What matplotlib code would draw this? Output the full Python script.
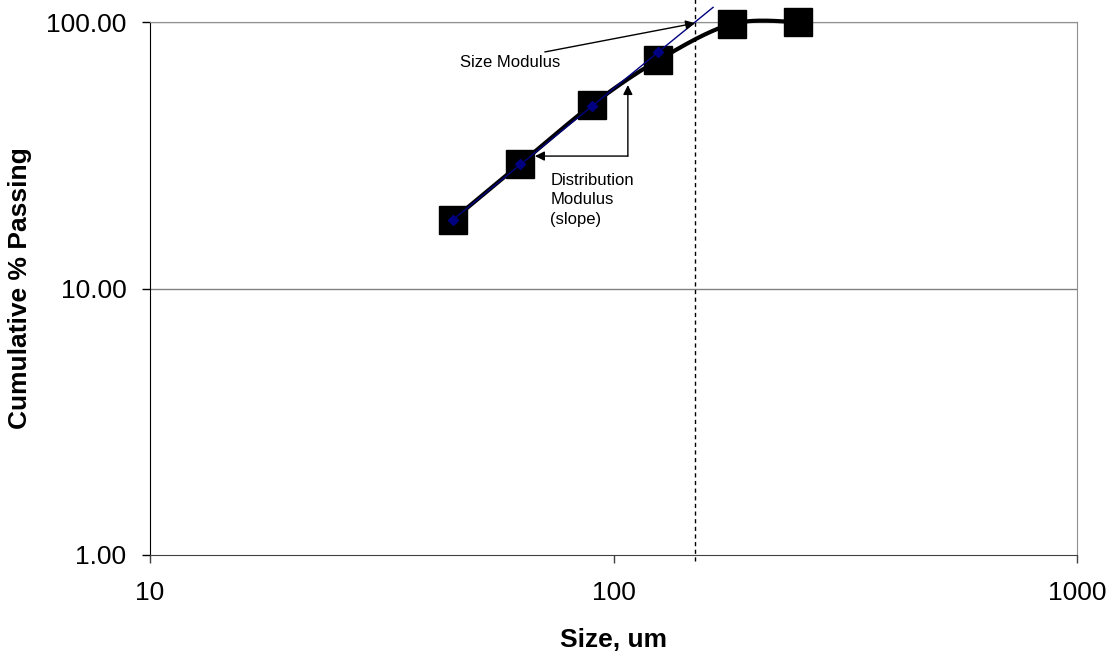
import numpy as np
import matplotlib
matplotlib.use("Agg")
import matplotlib.pyplot as plt
from matplotlib.ticker import FixedLocator, FixedFormatter, NullLocator

plt.rcParams['font.family'] = ['Liberation Sans', 'DejaVu Sans']

# ---- data ----
size_um = [45, 63, 90, 125, 180, 250]
cum_passing = [18.1, 29.4, 49.0, 72.0, 98.3, 100.0]

fit_size = [45, 63, 90, 125, 164]
fit_passing = [18.1, 29.2, 48.4, 77.2, 113.5]

size_modulus = 150

x_ticks = [10, 100, 1000]
x_tick_labels = ["10", "100", "1000"]
y_ticks = [1, 10, 100]
y_tick_labels = ["1.00", "10.00", "100.00"]


def smooth_loglog(xs, ys, n=40):
    """Excel-style Bezier smoothing through points in log-log space."""
    P = np.column_stack([np.log10(xs), np.log10(ys)])
    out = []
    for i in range(len(P) - 1):
        p0 = P[i - 1] if i > 0 else P[i]
        p1 = P[i]
        p2 = P[i + 1]
        p3 = P[i + 2] if i + 2 < len(P) else P[i + 1]
        c1 = p1 + (p2 - p0) / 6.0
        c2 = p2 - (p3 - p1) / 6.0
        t = np.linspace(0, 1, n)[:, None]
        seg = ((1 - t) ** 3) * p1 + 3 * ((1 - t) ** 2) * t * c1 + 3 * (1 - t) * t ** 2 * c2 + t ** 3 * p2
        out.append(seg if i == 0 else seg[1:])
    out = np.vstack(out)
    return 10 ** out[:, 0], 10 ** out[:, 1]


fig = plt.figure(figsize=(11.12, 6.56), dpi=100)
ax = fig.add_axes([150 / 1112, 1 - 555 / 656, 927 / 1112, 533 / 656])
ax.set_xscale('log')
ax.set_yscale('log')
ax.set_xlim(10, 1000)
ax.set_ylim(1, 100)

# gridlines
for yv in [10, 100]:
    ax.axhline(yv, color='#808080', lw=1.0, zorder=1)

# smoothed data curve
sx, sy = smooth_loglog(size_um, cum_passing)
ax.plot(sx, sy, color='black', lw=3.0, zorder=3, clip_on=False, solid_capstyle='butt')
ax.plot(size_um, cum_passing, linestyle='none', marker='s', ms=19.5, color='black',
        zorder=4, clip_on=False)

# fitted line
ax.plot(fit_size, fit_passing, color='#000080', lw=1.0, zorder=5, clip_on=False)
ax.plot(fit_size[:4], fit_passing[:4], linestyle='none', marker='D', ms=5,
        color='#000080', zorder=6, clip_on=False)

# size modulus vertical dashed line
ax.axvline(size_modulus, ymin=-0.012, ymax=1.045, color='black', lw=1.0,
           linestyle=(0, (3, 2.5)), zorder=2, clip_on=False)

# annotations
ax.annotate('', xy=(150, 99.0), xytext=(71.1, 77.2),
            arrowprops=dict(arrowstyle='-|>', color='black', lw=1.0,
                            mutation_scale=14, shrinkA=0, shrinkB=0), zorder=7)
ax.text(46.7, 70.2, 'Size Modulus', fontsize=12, ha='left', va='center', zorder=7)

ax.annotate('', xy=(107.4, 58.0), xytext=(107.4, 31.4),
            arrowprops=dict(arrowstyle='-|>', color='black', lw=1.0,
                            mutation_scale=14, shrinkA=0, shrinkB=0), zorder=7)
ax.annotate('', xy=(67.7, 31.4), xytext=(107.4, 31.4),
            arrowprops=dict(arrowstyle='-|>', color='black', lw=1.0,
                            mutation_scale=14, shrinkA=0, shrinkB=0), zorder=7)
ax.text(73, 27.2, 'Distribution\nModulus\n(slope)', fontsize=12, ha='left', va='top',
        linespacing=1.4, zorder=7)

# ticks
ax.xaxis.set_major_locator(FixedLocator(x_ticks))
ax.xaxis.set_major_formatter(FixedFormatter(x_tick_labels))
ax.xaxis.set_minor_locator(NullLocator())
ax.yaxis.set_major_locator(FixedLocator(y_ticks))
ax.yaxis.set_major_formatter(FixedFormatter(y_tick_labels))
ax.yaxis.set_minor_locator(NullLocator())
ax.tick_params(axis='x', direction='out', length=6, width=1, pad=13, labelsize=19,
               color='#404040')
ax.tick_params(axis='y', direction='out', length=6, width=1, pad=11, labelsize=19)

for side in ['top', 'right']:
    ax.spines[side].set_color('#909090')
ax.spines['left'].set_color('black')
ax.spines['bottom'].set_color('#404040')

ax.set_xlabel('Size, um', fontsize=19, fontweight='bold', labelpad=16)
ax.set_ylabel('Cumulative % Passing', fontsize=19, fontweight='bold')
ax.yaxis.set_label_coords(-0.127, 0.5)

fig.savefig('out.png', dpi=100, facecolor='white')
